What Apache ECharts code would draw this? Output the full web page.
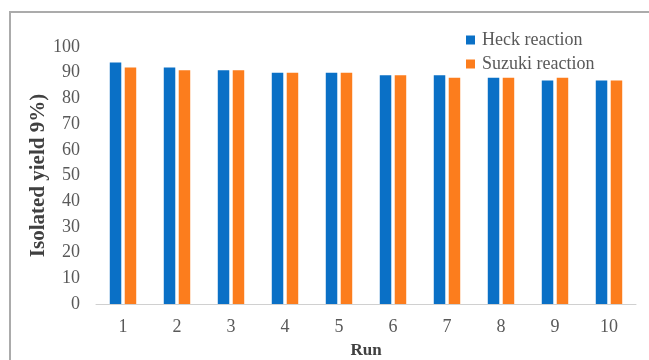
<!DOCTYPE html>
<html>
<head>
<meta charset="utf-8">
<style>
  html, body { margin: 0; padding: 0; background: #fff; }
  #chart { width: 649px; height: 360px; }
</style>
<script src="https://cdn.jsdelivr.net/npm/echarts@6/dist/echarts.min.js"></script>
</head>
<body>
<div id="chart"></div>
<script>
// Recyclability runs for the two coupling reactions
const runs = ['1', '2', '3', '4', '5', '6', '7', '8', '9', '10'];
const heckYield = [94, 92, 91, 90, 90, 89, 89, 88, 87, 87];
const suzukiYield = [92, 91, 91, 90, 90, 89, 88, 88, 88, 87];
const yTicks = { min: 0, max: 100, interval: 10 };

const serif = '"Liberation Serif", "DejaVu Serif", serif';
const chart = echarts.init(document.getElementById('chart'), null, { renderer: 'canvas' });

chart.setOption({
  animation: false,
  backgroundColor: '#fff',
  graphic: [{
    type: 'rect',
    shape: { x: 10, y: 12, width: 700, height: 400 },
    style: { fill: 'none', stroke: '#ababab', lineWidth: 2 },
    silent: true
  }],
  grid: {
    left: 96, right: 13, top: 47, bottom: 56,
    containLabel: false,
    outerBoundsMode: 'none'
  },
  legend: {
    orient: 'vertical',
    left: 461,
    top: 26,
    itemWidth: 9,
    itemHeight: 9,
    itemGap: 6,
    icon: 'rect',
    textStyle: { fontFamily: serif, fontSize: 18, color: '#595959', padding: [0, 0, 0, 2] },
    data: ['Heck reaction', 'Suzuki reaction']
  },
  xAxis: {
    type: 'category',
    data: runs,
    name: 'Run',
    nameLocation: 'middle',
    nameGap: 38,
    nameMoveOverlap: false,
    nameTextStyle: { fontFamily: serif, fontSize: 17, fontWeight: 'bold', color: '#404040' },
    axisLine: { lineStyle: { color: '#d0d0d0', width: 1 } },
    axisTick: { show: false },
    axisLabel: { fontFamily: serif, fontSize: 18, color: '#595959', margin: 14 }
  },
  yAxis: {
    type: 'value',
    min: yTicks.min,
    max: yTicks.max,
    interval: yTicks.interval,
    name: 'Isolated yield 9%)',
    nameLocation: 'middle',
    nameGap: 47,
    nameMoveOverlap: false,
    nameTextStyle: { fontFamily: serif, fontSize: 21, fontWeight: 'bold', color: '#404040' },
    axisLine: { show: false },
    axisTick: { show: false },
    splitLine: { show: false },
    axisLabel: { fontFamily: serif, fontSize: 18, color: '#595959', margin: 16 }
  },
  series: [
    {
      name: 'Heck reaction',
      type: 'bar',
      data: heckYield,
      barWidth: 11.5,
      barGap: '30%',
      itemStyle: { color: '#0a70c6' }
    },
    {
      name: 'Suzuki reaction',
      type: 'bar',
      data: suzukiYield,
      barWidth: 11.5,
      itemStyle: { color: '#fc7d1d' }
    }
  ]
});
</script>
</body>
</html>
